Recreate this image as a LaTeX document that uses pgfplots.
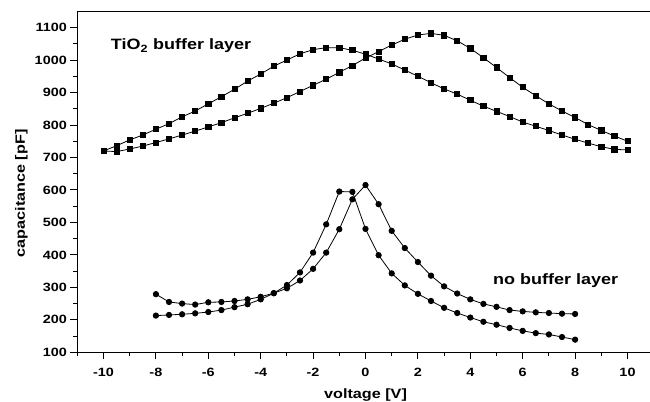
\documentclass[border=0pt]{standalone}
\usepackage{fontspec}
\setmainfont[FakeStretch=1.2]{Liberation Sans}
\usepackage{pgfplots}
\pgfplotsset{compat=1.18}
\usepackage{pgfplotstable}
\pgfplotstableread{
x y
-10 720
-9.5 736
-9 754
-8.5 769
-8 787
-7.5 804
-7 825
-6.5 843
-6 865
-5.5 887
-5 910
-4.5 935
-4 957
-3.5 981
-3 1000
-2.5 1019
-2 1032
-1.5 1038
-1 1038
-0.5 1030
0 1018
0.5 1003
1 988
1.5 969
2 950
2.5 930
3 911
3.5 895
4 876
4.5 858
5 842
5.5 826
6 809
6.5 796
7 783
7.5 769
8 756
8.5 744
9 733
9.5 725
10 723
}\curveC
\pgfplotstableread{
x y
-10 720
-9.5 718
-9 726
-8.5 735
-8 746
-7.5 757
-7 769
-6.5 781
-6 794
-5.5 807
-5 822
-4.5 836
-4 851
-3.5 867
-3 884
-2.5 903
-2 922
-1.5 941
-1 962
-0.5 983
0 1006
0.5 1026
1 1046
1.5 1064
2 1077
2.5 1082
3 1076
3.5 1059
4 1036
4.5 1007
5 977
5.5 946
6 916
6.5 890
7 865
7.5 843
8 823
8.5 801
9 783
9.5 766
10 750
}\curveD
\pgfplotstableread{
x y
-8 279
-7.5 255
-7 250
-6.5 247
-6 254
-5.5 255
-5 258
-4.5 263
-4 271
-3.5 282
-3 307
-2.5 346
-2 407
-1.5 494
-1 595
-0.5 594
0 480
0.5 399
1 343
1.5 306
2 280
2.5 258
3 237
3.5 221
4 207
4.5 194
5 185
5.5 175
6 166
6.5 159
7 155
7.5 147
8 139
}\curveA
\pgfplotstableread{
x y
-8 213
-7.5 215
-7 217
-6.5 220
-6 224
-5.5 230
-5 239
-4.5 248
-4 263
-3.5 282
-3 297
-2.5 321
-2 357
-1.5 407
-1 479
-0.5 571
0 615
0.5 556
1 474
1.5 421
2 378
2.5 336
3 303
3.5 281
4 263
4.5 249
5 240
5.5 230
6 226
6.5 223
7 221
7.5 219
8 218
}\curveB
\begin{document}
\begin{tikzpicture}
\begin{axis}[
  scale only axis,
  width=576.4bp, height=341bp,
  xmin=-11, xmax=11, ymin=100, ymax=1150,
  axis line style={line width=1bp},
  xtick={-10,-8,...,10},
  xticklabels={-10,-8,-6,-4,-2,0,2,4,6,8,10},
  minor xtick={-11,-9,...,11},
  ytick={100,200,...,1100},
  yticklabels={100,200,300,400,500,600,700,800,900,1000,1100},
  minor ytick={150,250,...,1050},
  tick align=outside,
  major tick length=7bp, minor tick length=4bp,
  xtick pos=left, ytick pos=left,
  every tick/.style={black, line width=0.9bp},
  every minor tick/.style={black, line width=0.9bp},
  ticklabel style={font=\fontsize{12bp}{14bp}\selectfont\bfseries},
  xticklabel style={anchor=base, yshift=-16.7bp},
  yticklabel style={anchor=east},
  xlabel={voltage [V]},
  ylabel={capacitance [pF]},
  label style={font=\fontsize{13.5bp}{16bp}\selectfont\bfseries},
  xlabel style={at={(axis description cs:0.5,0)}, anchor=base, yshift=-46.5bp},
  ylabel style={at={(axis description cs:-0.0972,0.4657)}, anchor=center, rotate=0},
  every axis plot/.append style={black, line width=0.8bp},
]
\addplot[mark=square*, mark size=2.6bp] table[x=x,y=y] {\curveC};
\addplot[mark=square*, mark size=2.6bp] table[x=x,y=y] {\curveD};
\addplot[mark=*, mark size=2.7bp] table[x=x,y=y] {\curveA};
\addplot[mark=*, mark size=2.7bp] table[x=x,y=y] {\curveB};
\node[anchor=west, font=\fontsize{15bp}{18bp}\selectfont\bfseries] at (axis cs:-9.85,1043) {TiO\textsubscript{2} buffer layer};
\node[anchor=center, font=\fontsize{15bp}{18bp}\selectfont\bfseries] at (axis cs:7.26,320.5) {no buffer layer};
\end{axis}
\pgfresetboundingbox
\path[use as bounding box] (-77.3bp,-49.7bp) rectangle (572.7bp,352.3bp);
\end{tikzpicture}
\end{document}
